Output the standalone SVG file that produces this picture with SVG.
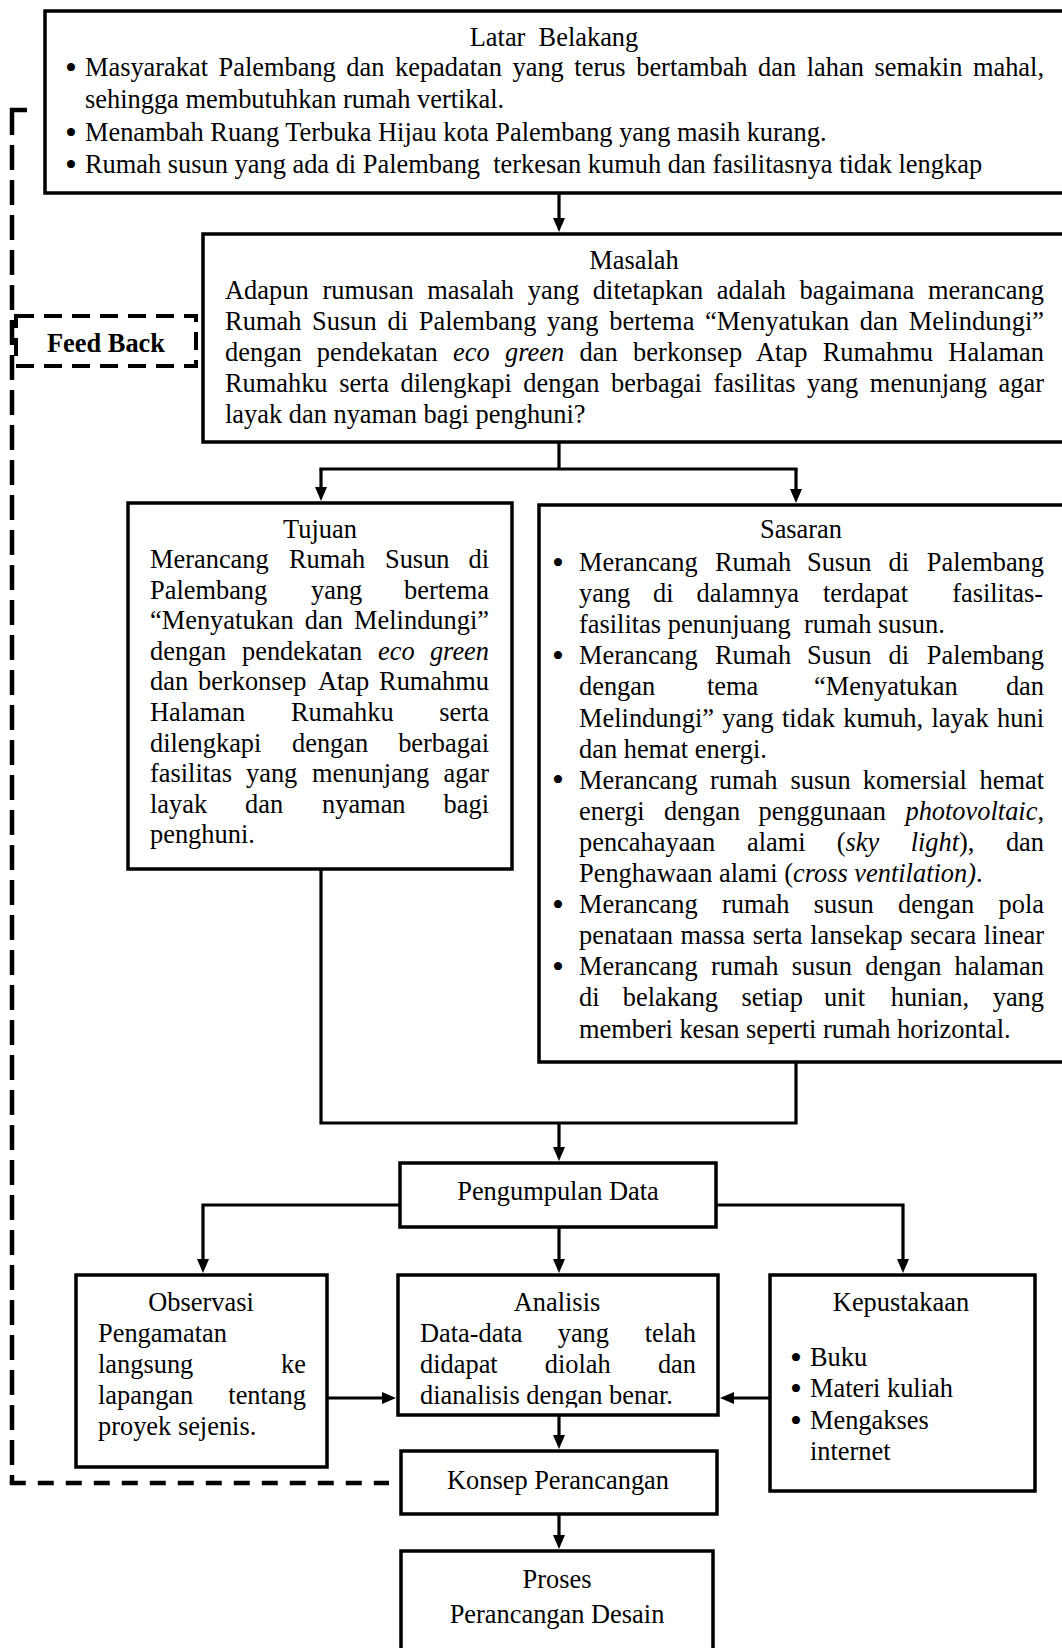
<svg xmlns="http://www.w3.org/2000/svg" width="1062" height="1648" viewBox="0 0 1062 1648">
<defs>
<style>
.box{fill:#fff;stroke:#000;stroke-width:3.5}
.dash{fill:none;stroke:#000;stroke-width:4.5}
text{font-family:"Liberation Serif","Times New Roman",serif;font-size:26.4px;fill:#000}
.c{text-anchor:middle}
.e{text-anchor:end}
.i{font-style:italic}
.b{font-weight:bold}
.bu{text-anchor:middle;font-size:34px}
.ln{fill:none;stroke:#000;stroke-width:3.2}
.ar{fill:none;stroke:#000;stroke-width:3.2;marker-end:url(#ah)}
</style>
<marker id="ah" viewBox="0 0 14 12" refX="8" refY="6" markerWidth="14" markerHeight="12" markerUnits="userSpaceOnUse" orient="auto"><path d="M0,0 L14,6 L0,12 z" fill="#000"/></marker>
<clipPath id="clipA"><rect x="398" y="1276" width="320" height="131.5"/></clipPath>
</defs>
<rect width="1062" height="1648" fill="#fff"/>

<g id="latar-belakang">
<rect class="box" x="45" y="11" width="1030" height="182"/>
<text class="c" x="554" y="46" xml:space="preserve">Latar  Belakang</text>
<text class="bu" x="71" y="78.5">•</text>
<text x="85" y="76" textLength="959" style="word-spacing:4px">Masyarakat Palembang dan kepadatan yang terus bertambah dan lahan semakin mahal,</text>
<text x="85" y="108">sehingga membutuhkan rumah vertikal.</text>
<text class="bu" x="71" y="143.5">•</text>
<text x="85" y="141">Menambah Ruang Terbuka Hijau kota Palembang yang masih kurang.</text>
<text class="bu" x="71" y="175.5">•</text>
<text x="85" y="173" xml:space="preserve">Rumah susun yang ada di Palembang  terkesan kumuh dan fasilitasnya tidak lengkap</text>
</g>

<g id="masalah">
<rect class="box" x="203" y="234" width="880" height="208"/>
<text class="c" x="634" y="269">Masalah</text>
<text x="225" y="299" textLength="819" style="word-spacing:7px">Adapun rumusan masalah yang ditetapkan adalah bagaimana merancang</text>
<text x="225" y="330" textLength="819" style="word-spacing:4px">Rumah Susun di Palembang yang bertema “Menyatukan dan Melindungi”</text>
<text x="225" y="361" textLength="819" style="word-spacing:8.5px">dengan pendekatan <tspan class="i">eco green</tspan> dan berkonsep Atap Rumahmu Halaman</text>
<text x="225" y="392" textLength="819" style="word-spacing:5px">Rumahku serta dilengkapi dengan berbagai fasilitas yang menunjang agar</text>
<text x="225" y="422.5">layak dan nyaman bagi penghuni?</text>
</g>

<g id="feed-back">
<rect x="16" y="316" width="180" height="50" fill="#fff" stroke="#000" stroke-width="4" stroke-dasharray="18 10"/>
<text class="c b" x="106" y="352">Feed Back</text>
</g>

<g id="tujuan">
<rect class="box" x="128" y="503" width="384" height="366"/>
<text class="c" x="320" y="538">Tujuan</text>
<text x="150" y="568">Merancang</text><text x="289" y="568">Rumah</text><text x="385" y="568">Susun</text><text class="e" x="489" y="568">di</text>
<text x="150" y="598.6">Palembang</text><text x="311" y="598.6">yang</text><text class="e" x="489" y="598.6">bertema</text>
<text x="150" y="629.2" textLength="339" style="word-spacing:4.5px">“Menyatukan dan Melindungi”</text>
<text x="150" y="659.8">dengan</text><text x="242" y="659.8">pendekatan</text><text class="i" x="378" y="659.8">eco</text><text class="e i" x="489" y="659.8">green</text>
<text x="150" y="690.4">dan</text><text x="198" y="690.4">berkonsep</text><text x="318" y="690.4">Atap</text><text class="e" x="489" y="690.4">Rumahmu</text>
<text x="150" y="721">Halaman</text><text x="291" y="721">Rumahku</text><text class="e" x="489" y="721">serta</text>
<text x="150" y="751.6">dilengkapi</text><text x="292" y="751.6">dengan</text><text class="e" x="489" y="751.6">berbagai</text>
<text x="150" y="782.2">fasilitas</text><text x="246" y="782.2">yang</text><text x="312" y="782.2">menunjang</text><text class="e" x="489" y="782.2">agar</text>
<text x="150" y="812.8">layak</text><text x="245" y="812.8">dan</text><text x="322" y="812.8">nyaman</text><text class="e" x="489" y="812.8">bagi</text>
<text x="150" y="843.4">penghuni.</text>
</g>

<g id="sasaran">
<rect class="box" x="539" y="505" width="540" height="557"/>
<text class="c" x="801" y="538">Sasaran</text>
<text class="bu" x="558" y="573.5">•</text>
<text x="579" y="571">Merancang</text><text x="715" y="571">Rumah</text><text x="807" y="571">Susun</text><text x="888.5" y="571">di</text><text class="e" x="1044" y="571">Palembang</text>
<text x="579" y="602.1">yang</text><text x="653" y="602.1">di</text><text x="696.5" y="602.1">dalamnya</text><text x="823" y="602.1">terdapat</text><text class="e" x="1043" y="602.1">fasilitas-</text>
<text x="579" y="633.2" xml:space="preserve">fasilitas penunjuang  rumah susun.</text>
<text class="bu" x="558" y="666.8">•</text>
<text x="579" y="664.3">Merancang</text><text x="715" y="664.3">Rumah</text><text x="807" y="664.3">Susun</text><text x="888.5" y="664.3">di</text><text class="e" x="1044" y="664.3">Palembang</text>
<text x="579" y="695.4">dengan</text><text x="707" y="695.4">tema</text><text x="814" y="695.4">“Menyatukan</text><text class="e" x="1044" y="695.4">dan</text>
<text x="579" y="726.5" textLength="465" style="word-spacing:1.7px">Melindungi” yang tidak kumuh, layak huni</text>
<text x="579" y="757.6">dan hemat energi.</text>
<text class="bu" x="558" y="791.2">•</text>
<text x="579" y="788.7">Merancang</text><text x="710" y="788.7">rumah</text><text x="790.5" y="788.7">susun</text><text x="862.8" y="788.7">komersial</text><text class="e" x="1044" y="788.7">hemat</text>
<text x="579" y="819.8">energi</text><text x="664" y="819.8">dengan</text><text x="758.5" y="819.8">penggunaan</text><text class="e" x="1044" y="819.8"><tspan class="i">photovoltaic</tspan>,</text>
<text x="579" y="850.9">pencahayaan</text><text x="747" y="850.9">alami</text><text x="836.8" y="850.9">(<tspan class="i">sky</tspan></text><text x="910.7" y="850.9"><tspan class="i">light</tspan>),</text><text class="e" x="1044" y="850.9">dan</text>
<text x="579" y="882">Penghawaan alami (<tspan class="i">cross ventilation)</tspan>.</text>
<text class="bu" x="558" y="915.6">•</text>
<text x="579" y="913.1">Merancang</text><text x="722" y="913.1">rumah</text><text x="813.7" y="913.1">susun</text><text x="898" y="913.1">dengan</text><text class="e" x="1044" y="913.1">pola</text>
<text x="579" y="944.2" textLength="465" style="word-spacing:1px">penataan massa serta lansekap secara linear</text>
<text class="bu" x="558" y="977.8">•</text>
<text x="579" y="975.3">Merancang</text><text x="711" y="975.3">rumah</text><text x="791.8" y="975.3">susun</text><text x="865.2" y="975.3">dengan</text><text class="e" x="1044" y="975.3">halaman</text>
<text x="579" y="1006.4">di</text><text x="622.8" y="1006.4">belakang</text><text x="741.4" y="1006.4">setiap</text><text x="824" y="1006.4">unit</text><text x="890.7" y="1006.4">hunian,</text><text class="e" x="1044" y="1006.4">yang</text>
<text x="579" y="1037.5">memberi kesan seperti rumah horizontal.</text>
</g>

<g id="pengumpulan-data">
<rect class="box" x="400" y="1163" width="316" height="64"/>
<text class="c" x="558" y="1200">Pengumpulan Data</text>
</g>

<g id="observasi">
<rect class="box" x="76" y="1275" width="251" height="192"/>
<text class="c" x="201" y="1311">Observasi</text>
<text x="98" y="1342">Pengamatan</text>
<text x="98" y="1373">langsung</text><text class="e" x="306" y="1373">ke</text>
<text x="98" y="1404">lapangan</text><text class="e" x="306" y="1404">tentang</text>
<text x="98" y="1435">proyek sejenis.</text>
</g>

<g id="analisis">
<rect class="box" x="398" y="1275" width="320" height="140"/>
<text class="c" x="557" y="1311">Analisis</text>
<text x="420" y="1342">Data-data</text><text x="557.7" y="1342">yang</text><text class="e" x="696" y="1342">telah</text>
<text x="420" y="1373">didapat</text><text x="544.8" y="1373">diolah</text><text class="e" x="696" y="1373">dan</text>
<text x="420" y="1404" clip-path="url(#clipA)">dianalisis dengan benar.</text>
</g>

<g id="kepustakaan">
<rect class="box" x="770" y="1275" width="265" height="216"/>
<text class="c" x="901" y="1311">Kepustakaan</text>
<text class="bu" x="796" y="1368.5">•</text><text x="810" y="1366">Buku</text>
<text class="bu" x="796" y="1399.5">•</text><text x="810" y="1397">Materi kuliah</text>
<text class="bu" x="796" y="1431.5">•</text><text x="810" y="1429">Mengakses</text>
<text x="810" y="1460">internet</text>
</g>

<g id="konsep-perancangan">
<rect class="box" x="401" y="1451" width="316" height="63"/>
<text class="c" x="558" y="1489">Konsep Perancangan</text>
</g>

<g id="proses-perancangan-desain">
<rect class="box" x="401" y="1551" width="312" height="120"/>
<text class="c" x="557" y="1588">Proses</text>
<text class="c" x="557" y="1623">Perancangan Desain</text>
</g>

<g id="connectors">
<path class="ar" d="M559,193 V226"/>
<path class="ln" d="M559,442 V469 M319.4,469 H797.6"/>
<path class="ar" d="M321,469 V495"/>
<path class="ar" d="M796,469 V497"/>
<path class="ln" d="M321,869 V1123 H796 V1062"/>
<path class="ar" d="M559,1123 V1155"/>
<path class="ar" d="M400,1205 H203 V1267"/>
<path class="ar" d="M716,1205 H903 V1267"/>
<path class="ar" d="M559,1227 V1267"/>
<path class="ar" d="M327,1398 H390"/>
<path class="ar" d="M770,1398 H726"/>
<path class="ar" d="M559,1415 V1443"/>
<path class="ar" d="M559,1514 V1543"/>
<path class="dash" d="M27,110 H12 V135"/>
<path class="dash" d="M12,145 V1483" stroke-dasharray="25 10"/>
<path class="dash" d="M9.75,1483 H389" stroke-dasharray="16 12"/>
</g>
</svg>
